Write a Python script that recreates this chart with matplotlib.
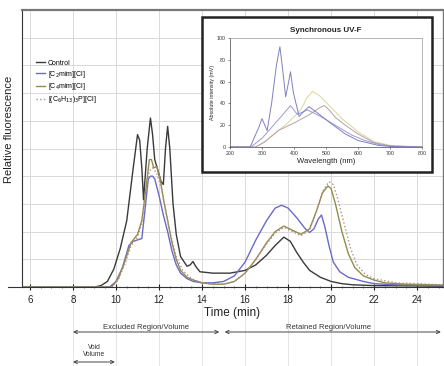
import matplotlib
matplotlib.use("Agg")
import matplotlib.pyplot as plt
from matplotlib.patches import Rectangle
from matplotlib.ticker import MultipleLocator

# ---------------- data ----------------
labels = ["Control", "[C$_2$mim][Cl]", "[C$_4$mim][Cl]", "[(C$_6$H$_{13}$)$_3$P][Cl]"]

t_control = [5.0, 9.0, 9.3, 9.6, 9.9, 10.2, 10.5, 10.8, 11.0, 11.1, 11.2, 11.28, 11.45, 11.6, 11.7,
             11.8, 11.95, 12.1, 12.2, 12.3, 12.4, 12.5, 12.65, 12.8, 13.0, 13.3, 13.45, 13.58, 13.7,
             13.9, 14.5, 15.3, 16.0, 16.5, 17.0, 17.4, 17.8, 18.1, 18.4, 18.7, 19.0, 19.5, 20.0,
             20.5, 21.0, 22.0, 25.2]
y_control = [0.0, 0.0, 0.05, 0.2, 0.65, 1.4, 2.4, 4.3, 5.5, 5.3, 4.3, 3.15, 5.0, 6.1, 5.5,
             4.6, 4.2, 3.8, 3.7, 5.0, 5.8, 5.0, 3.0, 1.9, 1.1, 0.75, 0.8, 0.92, 0.75,
             0.55, 0.5, 0.5, 0.6, 0.8, 1.15, 1.5, 1.8, 1.65, 1.25, 0.9, 0.6, 0.35, 0.2,
             0.12, 0.08, 0.05, 0.03]

t_c2 = [5.0, 9.7, 10.0, 10.3, 10.6, 10.8, 11.0, 11.2, 11.35, 11.5, 11.6, 11.7, 11.8, 11.9, 12.0,
        12.2, 12.4, 12.6, 12.8, 13.0, 13.3, 13.6, 14.0, 14.5, 15.0, 15.5, 16.0, 16.5, 17.0, 17.4,
        17.7, 18.0, 18.4, 18.8, 19.0, 19.2, 19.4, 19.55, 19.7, 19.9, 20.1, 20.4, 20.8, 21.5, 22.0,
        23.0, 25.2]
y_c2 = [0.0, 0.0, 0.2, 0.7, 1.5, 1.65, 1.7, 1.75, 2.8, 3.9, 4.0, 4.0, 3.9, 3.6, 3.3,
        2.6, 2.0, 1.3, 0.8, 0.5, 0.3, 0.2, 0.15, 0.15, 0.2, 0.4, 0.9, 1.7, 2.4, 2.85,
        2.95, 2.85, 2.5, 2.1, 1.97, 2.1, 2.45, 2.6, 2.2, 1.5, 0.9, 0.55, 0.35, 0.2, 0.12,
        0.08, 0.05]

t_c4 = [5.0, 9.8, 10.1, 10.4, 10.7, 11.0, 11.2, 11.4, 11.55, 11.65, 11.75, 11.9, 12.05, 12.2,
        12.4, 12.6, 12.8, 13.0, 13.3, 13.6, 14.0, 14.5, 15.0, 15.5, 16.0, 16.5, 17.0, 17.4, 17.8,
        18.2, 18.6, 19.0, 19.3, 19.6, 19.85, 20.0, 20.2, 20.5, 20.8, 21.1, 21.5, 22.0, 22.5, 23.5,
        25.2]
y_c4 = [0.0, 0.0, 0.3, 0.9, 1.6, 1.9, 2.4, 3.6, 4.6, 4.6, 4.3, 4.35, 3.9, 3.2,
        2.4, 1.6, 1.0, 0.6, 0.35, 0.25, 0.15, 0.1, 0.1, 0.2, 0.5, 1.0, 1.6, 2.0, 2.2,
        2.05, 1.9, 2.1, 2.7, 3.4, 3.65, 3.55, 3.0, 2.0, 1.2, 0.7, 0.4, 0.25, 0.15, 0.1,
        0.07]

t_p = [5.0, 9.8, 10.1, 10.4, 10.7, 11.0, 11.2, 11.4, 11.55, 11.7, 11.9, 12.1, 12.3, 12.5, 12.8,
       13.1, 13.5, 14.0, 15.0, 15.5, 16.0, 16.5, 17.0, 17.4, 17.8, 18.2, 18.6, 19.0, 19.3, 19.6,
       19.9, 20.1, 20.3, 20.6, 20.9, 21.2, 21.6, 22.0, 23.0, 25.2]
y_p = [0.0, 0.0, 0.25, 0.8, 1.5, 1.8, 2.3, 3.4, 4.2, 4.3, 4.1, 3.6, 2.8, 2.0, 1.1,
       0.6, 0.3, 0.15, 0.1, 0.2, 0.5, 1.0, 1.55, 1.95, 2.15, 2.0, 1.85, 2.05, 2.7, 3.45,
       3.8, 3.7, 3.2, 2.3, 1.4, 0.8, 0.45, 0.3, 0.15, 0.08]

xticks = [6, 8, 10, 12, 14, 16, 18, 20, 22, 24]

# inset: synchronous UV-F spectra
wl_a = [200, 263, 290, 300, 316, 330, 345, 356, 365, 374, 382, 389, 398, 416, 432, 447, 470, 516, 560, 600, 663, 700, 800]
in_a = [0, 0, 18, 26, 15, 40, 75, 92, 70, 46, 58, 69, 50, 28, 33, 37, 32, 21.5, 12, 6, 1.5, 0.5, 0]
wl_b = [200, 265, 300, 330, 360, 389, 410, 442, 470, 495, 540, 580, 621, 670, 720, 800]
in_b = [0, 0, 8, 18, 28, 38, 30, 34, 30, 26, 18, 11, 6, 2, 0.5, 0]
wl_c = [200, 280, 300, 340, 380, 421, 440, 458, 480, 510, 550, 600, 650, 700, 800]
in_c = [0, 0, 3, 12, 22, 34, 45, 51, 47, 38, 26, 14, 5, 1.5, 0]
wl_d = [200, 280, 310, 350, 400, 450, 480, 495, 510, 530, 560, 600, 650, 700, 800]
in_d = [0, 0, 5, 15, 22, 30, 36, 38, 34, 27, 20, 12, 4, 1, 0]

# ---------------- figure ----------------
fig = plt.figure(figsize=(4.44, 3.66), dpi=100)
plt.rcParams['font.family'] = ['Liberation Sans', 'DejaVu Sans']

ax = fig.add_axes([22 / 444, 1 - 287 / 366, (443 - 22) / 444, (287 - 10) / 366])
ax.set_xlim(5.63, 25.2)
ax.set_ylim(0, 10)

colors = ['#3a3a3a', '#6a6ac8', '#8e8e4e', '#b88a8a']
styles = ['-', '-', '-', ':']
series = [(t_control, y_control), (t_c2, y_c2), (t_c4, y_c4), (t_p, y_p)]
for (tt, yy), c, ls, lab in zip(series, colors, styles, labels):
    ax.plot(tt, yy, color=c, lw=1.0, ls=ls, label=lab, clip_on=True)

ax.set_xticks(xticks)
ax.xaxis.set_minor_locator(MultipleLocator(0.5))
ax.set_yticks(range(0, 11))
ax.tick_params(axis='y', left=False, labelleft=False)
ax.tick_params(axis='x', which='major', direction='inout', length=4, width=0.8,
               labelsize=7, colors='#222222', pad=4)
ax.tick_params(axis='x', which='minor', direction='inout', length=2, width=0.5, colors='#444444')
ax.grid(True, which='major', color='#d9d9d9', lw=0.7)
for s in ['top', 'right']:
    ax.spines[s].set_color('#777777')
    ax.spines[s].set_linewidth(1.0)
ax.spines['top'].set_linewidth(1.6)
ax.spines['left'].set_color('#333333')
ax.spines['bottom'].set_color('#333333')
ax.set_xlabel("Time (min)", fontsize=8.5, labelpad=1, color='#222222')
ax.set_ylabel("Relative fluorescence", fontsize=8, color='#222222')
ax.yaxis.set_label_coords(-0.019, 0.57)

# axis line extends left of the y spine
ax.plot([4.98, 5.63], [0, 0], color='#333333', lw=0.8, clip_on=False)
# grid lines continue below the plot
ax.vlines(xticks[1:], -2.9, 0, colors='#e0e0e0', lw=0.6, clip_on=False, zorder=0)

leg = ax.legend(loc='upper left', bbox_to_anchor=(33 / 444, 1 - 57 / 366),
                bbox_transform=fig.transFigure, frameon=False, fontsize=5,
                handlelength=1.3, handletextpad=0.4, labelspacing=0.25, borderaxespad=0)

# bottom annotations (data x, data y below axis)
def darrow(x0, x1, y):
    ax.annotate('', xy=(x0, y), xytext=(x1, y), xycoords='data', textcoords='data',
                arrowprops=dict(arrowstyle='<->', lw=0.7, color='#444444',
                                shrinkA=0, shrinkB=0, mutation_scale=6),
                annotation_clip=False)

y_reg = -(332 - 287) / 27.7
darrow(8.0, 14.8, y_reg)
darrow(15.05, 25.1, y_reg)
ax.text(11.4, y_reg + 0.05, "Excluded Region/Volume", fontsize=5.5, ha='center', va='bottom',
        color='#333333', clip_on=False)
ax.text(19.9, y_reg + 0.05, "Retained Region/Volume", fontsize=5.5, ha='center', va='bottom',
        color='#333333', clip_on=False)
y_void = -(362 - 287) / 27.7
darrow(8.0, 9.95, y_void)
ax.text(9.0, y_void + 0.15, "Void\nVolume", fontsize=4.8, ha='center', va='bottom',
        color='#333333', linespacing=1.0, clip_on=False)

# inset frame
box = Rectangle((202 / 444, 1 - 172 / 366), (432 - 202) / 444, (172 - 17) / 366,
                transform=fig.transFigure, facecolor='white', edgecolor='#222222', lw=1.8, zorder=1)
fig.add_artist(box)

ins = fig.add_axes([230 / 444, 1 - 147 / 366, (422 - 230) / 444, (147 - 38) / 366], zorder=2)
ins.plot(wl_c, in_c, color='#d8d89a', lw=0.7)
ins.plot(wl_d, in_d, color='#b8a0a8', lw=0.7)
ins.plot(wl_b, in_b, color='#9a9ad8', lw=0.7)
ins.plot(wl_a, in_a, color='#8080c0', lw=0.7)
ins.set_xlim(200, 800)
ins.set_ylim(0, 100)
ins.set_xticks(range(200, 801, 100))
ins.set_yticks(range(0, 101, 20))
ins.tick_params(labelsize=3.8, length=1.5, width=0.4, pad=1.5, colors='#333333')
for s in ins.spines.values():
    s.set_color('#999999')
    s.set_linewidth(0.5)
ins.spines['left'].set_color('#444444')
ins.spines['bottom'].set_color('#444444')
ins.set_title("Synchronous UV-F", fontsize=5.8, fontweight='bold', pad=4, color='#222222')
ins.set_xlabel("Wavelength (nm)", fontsize=5.5, labelpad=1, color='#222222')
ins.set_ylabel("Absolute intensity (mV)", fontsize=3.8, labelpad=1.5, color='#222222')

fig.savefig("out.png", dpi=100)
